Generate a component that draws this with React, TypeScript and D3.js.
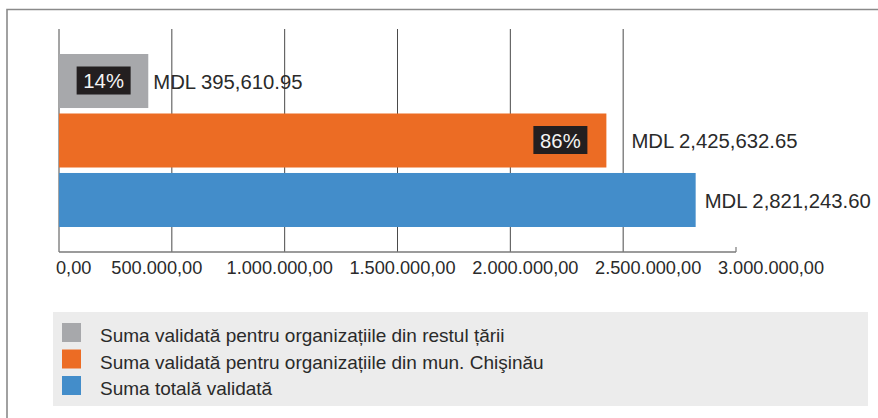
import React from "react";
import * as d3 from "d3";

const categories = [
  "Suma validată pentru organizațiile din restul țării",
  "Suma validată pentru organizațiile din mun. Chişinău",
  "Suma totală validată",
];
const values = [395610.95, 2425632.65, 2821243.6];
const valueLabels = ["MDL 395,610.95", "MDL 2,425,632.65", "MDL 2,821,243.60"];
const shares = ["14%", "86%", ""];
const colors = ["#a7a8ab", "#ec6c24", "#438dca"];
const labelGaps = [5, 25, 9];
const tickValues = [0, 500000, 1000000, 1500000, 2000000, 2500000, 3000000];
const tickLabels = [
  "0,00",
  "500.000,00",
  "1.000.000,00",
  "1.500.000,00",
  "2.000.000,00",
  "2.500.000,00",
  "3.000.000,00",
];

const width = 878;
const height = 418;
const font = "'Liberation Sans', Arial, sans-serif";
const textColor = "#2a2a2a";

const App = () => {
  const x = d3.scaleLinear().domain([0, 3000000]).range([59, 736]);
  // the tick labels sit a bit wider than the ticks in the original
  const xLabel = d3.scaleLinear().domain([0, 3000000]).range([34, 771]);
  const y = d3
    .scaleBand()
    .domain(categories)
    .range([54, 227])
    .paddingInner(0.092)
    .paddingOuter(0);

  const axisY = 252;
  const gridTop = 29;
  const badgeW = 54;
  const badgeH = 28;

  return (
    <svg
      width={width}
      height={height}
      style={{ position: "absolute", left: 0, top: 0, fontFamily: font }}
    >
      <rect width={width} height={height} fill="#fff" />
      {/* frame */}
      <path
        d={`M7,${height} V9.5 H${width}`}
        fill="none"
        stroke="#8a8a8a"
        strokeWidth={1.6}
      />

      {/* grid */}
      {tickValues.slice(0, -1).map((t) => (
        <line
          key={t}
          x1={x(t)}
          x2={x(t)}
          y1={gridTop}
          y2={axisY}
          stroke="#4a4a4a"
          strokeWidth={1}
        />
      ))}
      <line
        x1={x(0)}
        x2={x(3000000)}
        y1={axisY}
        y2={axisY}
        stroke="#7a7a7a"
        strokeWidth={1.5}
      />
      <line
        x1={x(3000000)}
        x2={x(3000000)}
        y1={axisY - 5}
        y2={axisY}
        stroke="#7a7a7a"
        strokeWidth={1.2}
      />

      {/* bars */}
      {categories.map((c, i) => {
        const y0 = y(c) as number;
        const bw = y.bandwidth();
        const end = x(values[i]);
        const cy = y0 + bw / 2;
        const barW = end - x(0);
        const badgeX =
          barW > badgeW * 3 ? end - 19 - badgeW : x(0) + (barW - badgeW) / 2;
        return (
          <g key={c}>
            <rect x={x(0)} y={y0} width={barW} height={bw} fill={colors[i]} />
            {shares[i] && (
              <g>
                <rect
                  x={badgeX}
                  y={cy - badgeH / 2 - 0.5}
                  width={badgeW}
                  height={badgeH}
                  fill="#231f20"
                />
                <text
                  x={badgeX + badgeW / 2}
                  y={cy + 7.4}
                  textAnchor="middle"
                  fontSize={20.3}
                  fill="#f4f4f4"
                >
                  {shares[i]}
                </text>
              </g>
            )}
            <text
              x={end + labelGaps[i]}
              y={cy + 7.6}
              fontSize={20.3}
              fill={textColor}
            >
              {valueLabels[i]}
            </text>
          </g>
        );
      })}

      {/* tick labels */}
      {tickValues.map((t, i) => (
        <text
          key={t}
          x={i === 0 ? x(t) - 3 : xLabel(t)}
          y={axisY + 22}
          textAnchor={i === 0 ? "start" : "middle"}
          fontSize={18.2}
          fill={textColor}
        >
          {tickLabels[i]}
        </text>
      ))}

      {/* legend */}
      <rect x={53} y={312} width={815} height={94} fill="#ececec" />
      {categories.map((c, i) => (
        <g key={c} transform={`translate(62, ${323 + i * 26.5})`}>
          <rect width={19} height={19} fill={colors[i]} />
          <text x={38} y={19.2} fontSize={19} fill={textColor}>
            {c}
          </text>
        </g>
      ))}
    </svg>
  );
};

export default App;
